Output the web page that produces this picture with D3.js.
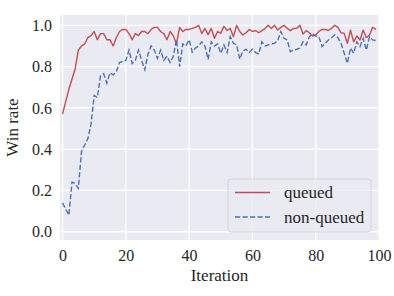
<!DOCTYPE html>
<html lang="en">
<head>
    <meta charset="UTF-8">
    <title>Win rate by iteration</title>
    <script src="https://d3js.org/d3.v7.min.js"></script>
    <style>
        body { margin: 0; background: #fff; }
        text { font-family: "Liberation Serif", "DejaVu Serif", serif; fill: #262626; }
    </style>
</head>
<body>
    <svg id="chart" width="394" height="296"></svg>

    <script>
        // values, one per iteration 0..99
        const queued = [
            0.57, 0.63, 0.69, 0.74, 0.79, 0.88, 0.90, 0.91, 0.94, 0.95,
            0.97, 0.93, 0.96, 0.96, 0.93, 0.93, 0.90, 0.94, 0.97, 0.98,
            0.98, 0.96, 0.93, 0.96, 0.95, 0.97, 0.97, 0.96, 0.98, 0.99,
            0.99, 0.97, 0.96, 0.93, 0.97, 0.95, 0.91, 0.99, 0.97, 0.98,
            0.98, 0.985, 0.99, 1.0, 0.96, 0.985, 0.955, 0.985, 0.937, 0.97,
            0.962, 0.995, 0.975, 0.985, 0.945, 1.0, 0.97, 0.953, 0.964, 0.98,
            0.97, 0.974, 0.964, 0.974, 0.985, 1.0, 0.985, 1.0, 0.977, 0.99,
            1.0, 0.985, 0.974, 0.985, 0.985, 1.0, 0.958, 0.974, 0.964, 0.948,
            0.953, 0.97, 0.98, 0.98, 0.975, 0.985, 1.0, 0.99, 0.964, 0.961,
            0.913, 0.977, 0.92, 0.948, 0.929, 0.977, 0.94, 0.953, 0.99, 0.98
        ];
        const nonQueued = [
            0.14, 0.11, 0.08, 0.24, 0.235, 0.21, 0.39, 0.42, 0.45, 0.52,
            0.66, 0.65, 0.755, 0.765, 0.72, 0.77, 0.76, 0.775, 0.82, 0.825,
            0.83, 0.88, 0.815, 0.83, 0.88, 0.83, 0.785, 0.86, 0.90, 0.88,
            0.84, 0.88, 0.83, 0.85, 0.82, 0.85, 0.93, 0.80, 0.91, 0.90,
            0.93, 0.87, 0.89, 0.90, 0.92, 0.90, 0.835, 0.92, 0.90, 0.91,
            0.865, 0.905, 0.868, 0.945, 0.913, 0.905, 0.836, 0.877, 0.884, 0.868,
            0.884, 0.868, 0.861, 0.92, 0.90, 0.905, 0.91, 0.913, 0.926, 0.97,
            0.937, 0.929, 0.872, 0.88, 0.884, 0.89, 0.92, 0.905, 0.945, 0.96,
            0.948, 0.945, 0.897, 0.913, 0.929, 0.94, 0.953, 0.94, 0.913, 0.865,
            0.816, 0.89, 0.865, 0.92, 0.897, 0.937, 0.88, 0.945, 0.929, 0.926
        ];
        const seriesNames = ["queued", "non-queued"];
        const xTicks = [0, 20, 40, 60, 80, 100];
        const yTicks = [0.0, 0.2, 0.4, 0.6, 0.8, 1.0];

        const svg = d3.select("#chart"),
              margin = {top: 15, right: 15, bottom: 56, left: 60},
              width = +svg.attr("width") - margin.left - margin.right,
              height = +svg.attr("height") - margin.top - margin.bottom,
              g = svg.append("g").attr("transform", `translate(${margin.left},${margin.top})`);

        const x = d3.scaleLinear().domain([-0.8, 100]).range([0, width]);
        const y = d3.scaleLinear().domain([-0.04, 1.05]).range([height, 0]);
        const color = d3.scaleOrdinal().domain(seriesNames).range(["#C44E52", "#4C72B0"]);

        // background + grid
        g.append("rect").attr("width", width).attr("height", height).attr("fill", "#EAEAF2");

        g.selectAll("line.xgrid").data(xTicks).join("line")
            .attr("x1", d => x(d)).attr("x2", d => x(d))
            .attr("y1", 0).attr("y2", height)
            .attr("stroke", "#fff").attr("stroke-width", 1.3);
        g.selectAll("line.ygrid").data(yTicks).join("line")
            .attr("y1", d => y(d)).attr("y2", d => y(d))
            .attr("x1", 0).attr("x2", width)
            .attr("stroke", "#fff").attr("stroke-width", 1.3);

        // axes (labels only, no spines)
        const xAxis = g.append("g").attr("transform", `translate(0,${height})`)
            .call(d3.axisBottom(x).tickValues(xTicks).tickSize(0).tickPadding(10).tickFormat(d3.format("d")));
        const yAxis = g.append("g")
            .call(d3.axisLeft(y).tickValues(yTicks).tickSize(0).tickPadding(8).tickFormat(d3.format(".1f")));
        [xAxis, yAxis].forEach(a => {
            a.select(".domain").remove();
            a.selectAll("text").style("font-size", "16px")
                .style("font-family", "'Liberation Serif', serif").attr("fill", "#262626");
        });

        g.append("text")
            .attr("x", width / 2).attr("y", height + 41)
            .attr("text-anchor", "middle").style("font-size", "17px")
            .text("Iteration");
        g.append("text")
            .attr("transform", `translate(${-42},${height / 2}) rotate(-90)`)
            .attr("text-anchor", "middle").style("font-size", "17px")
            .text("Win rate");

        // lines
        const line = d3.line().x((d, i) => x(i)).y(d => y(d));
        g.append("path").datum(queued)
            .attr("fill", "none").attr("stroke", color("queued"))
            .attr("stroke-width", 1.4).attr("stroke-linejoin", "round")
            .attr("d", line);
        g.append("path").datum(nonQueued)
            .attr("fill", "none").attr("stroke", color("non-queued"))
            .attr("stroke-width", 1.4).attr("stroke-dasharray", "5.2,2.3")
            .attr("d", line);

        // legend
        const legend = svg.append("g").attr("transform", "translate(228,179)");
        legend.append("rect")
            .attr("width", 143).attr("height", 53).attr("rx", 3)
            .attr("fill", "#EAEAF2").attr("fill-opacity", 0.8)
            .attr("stroke", "#d4d4dc").attr("stroke-width", 1);

        const legendItem = legend.selectAll(".legend-item")
            .data(seriesNames)
            .join("g")
            .attr("class", "legend-item")
            .attr("transform", (d, i) => `translate(0, ${13.5 + i * 24.5})`);
        legendItem.append("line")
            .attr("x1", 7).attr("x2", 42)
            .attr("stroke", d => color(d)).attr("stroke-width", 1.4)
            .attr("stroke-dasharray", d => d === "non-queued" ? "5.2,2.3" : null);
        legendItem.append("text")
            .attr("x", 56).attr("y", 5.5)
            .style("font-size", "17px")
            .text(d => d);
    </script>
</body>
</html>
